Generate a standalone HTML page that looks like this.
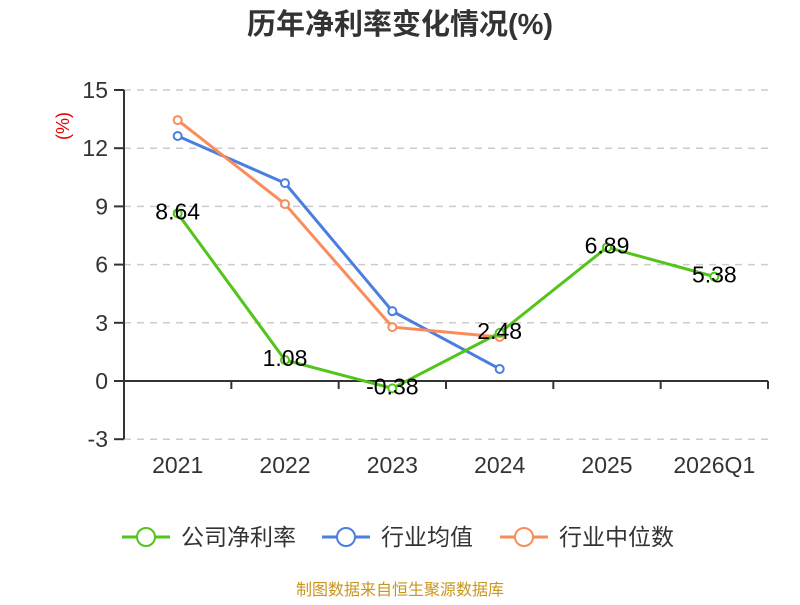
<!DOCTYPE html>
<html><head><meta charset="utf-8"><style>
body{margin:0;background:#fff;width:800px;height:600px;overflow:hidden;font-family:"Liberation Sans","Noto Sans CJK SC",sans-serif}
</style></head><body>
<svg id="chart" width="800" height="600" xmlns="http://www.w3.org/2000/svg">
<text x="400" y="34" text-anchor="middle" font-size="29" font-weight="bold" fill="#333" font-family="Liberation Sans,Noto Sans CJK SC,sans-serif">历年净利率变化情况(%)</text>
<text transform="translate(69,126) rotate(-90)" text-anchor="middle" font-size="18" fill="#e00">(%)</text>
<g id="grid"></g><g id="axes"></g><g id="series"></g>
<g font-size="23" fill="#333" font-family="Liberation Sans,Noto Sans CJK SC,sans-serif">
<g><line x1="122" y1="537" x2="170" y2="537" stroke="#52c41a" stroke-width="3"/><circle cx="146" cy="537" r="9" fill="#fff" stroke="#52c41a" stroke-width="2"/><text x="181" y="545">公司净利率</text></g>
<g><line x1="322" y1="537" x2="370" y2="537" stroke="#4a7ee0" stroke-width="3"/><circle cx="346" cy="537" r="9" fill="#fff" stroke="#4a7ee0" stroke-width="2"/><text x="381" y="545">行业均值</text></g>
<g><line x1="500" y1="537" x2="548" y2="537" stroke="#fa8c5a" stroke-width="3"/><circle cx="524" cy="537" r="9" fill="#fff" stroke="#fa8c5a" stroke-width="2"/><text x="559" y="545">行业中位数</text></g>
</g>
<text x="400" y="595" text-anchor="middle" font-size="16" fill="#c8961e" font-family="Liberation Sans,Noto Sans CJK SC,sans-serif">制图数据来自恒生聚源数据库</text>
</svg>
<script>
const categories=["2021","2022","2023","2024","2025","2026Q1"];
const yTicks=[-3,0,3,6,9,12,15];
const companyVals=[8.64,1.08,-0.38,2.48,6.89,5.38];
const avgVals=[12.63,10.2,3.6,0.62,null,null];
const medianVals=[13.45,9.12,2.78,2.27,null,null];
const NS="http://www.w3.org/2000/svg";
const L=124,R=768,T=90,B=439;
const x=i=>L+(R-L)/categories.length*(i+0.5);
const y=v=>381-(v*(381-T)/15);
function mk(tag,at,parent){const e=document.createElementNS(NS,tag);for(const k in at)e.setAttribute(k,at[k]);document.getElementById(parent).appendChild(e);return e;}
yTicks.forEach(t=>{
 if(t!==0){const g=mk('line',{x1:L,x2:R,y1:y(t),y2:y(t),stroke:'#ccc','stroke-width':1.5,'stroke-dasharray':'7,6'},'grid');
 
 }
 const tk=mk('line',{x1:L-10,x2:L,y1:y(t),y2:y(t),stroke:'#333','stroke-width':2},'axes');
 
 
 const lb=mk('text',{x:L-16,y:y(t)+8,'text-anchor':'end','font-size':23,fill:'#333'},'axes');
 lb.textContent=t;
 
 
});
const ya=mk('line',{x1:L,x2:L,y1:T,y2:B,stroke:'#333','stroke-width':2},'axes');


const xa=mk('line',{x1:L,x2:R,y1:y(0),y2:y(0),stroke:'#333','stroke-width':2},'axes');


categories.forEach((c,i)=>{
 const b=L+(R-L)/categories.length*(i+1);
 const tk=mk('line',{x1:b,x2:b,y1:y(0),y2:y(0)+8,stroke:'#333','stroke-width':2},'axes');
 
 
 const lb=mk('text',{x:x(i),y:473,'text-anchor':'middle','font-size':23,fill:'#333'},'axes');
 lb.textContent=c;
 
 
});
function series(vals,color,name,labels){
 const pts=vals.map((v,i)=>v==null?null:[x(i),y(v)]).filter(p=>p);
 const pl=mk('polyline',{points:pts.map(p=>p.join(',')).join(' '),fill:'none',stroke:color,'stroke-width':3},'series');
 
 
 vals.forEach((v,i)=>{if(v==null)return;
  const c=mk('circle',{cx:x(i),cy:y(v),r:4,fill:'#fff',stroke:color,'stroke-width':2},'series');
  
  
  if(labels){const t=mk('text',{x:x(i),y:y(v)+6,'text-anchor':'middle','font-size':23,fill:'#000'},'series');
   t.textContent=v.toFixed(2);
   
   }
 });
}
series(avgVals,'#4a7ee0','industry-avg',false);
series(medianVals,'#fa8c5a','industry-median',false);
series(companyVals,'#52c41a','company',true);
</script>
</body></html>
